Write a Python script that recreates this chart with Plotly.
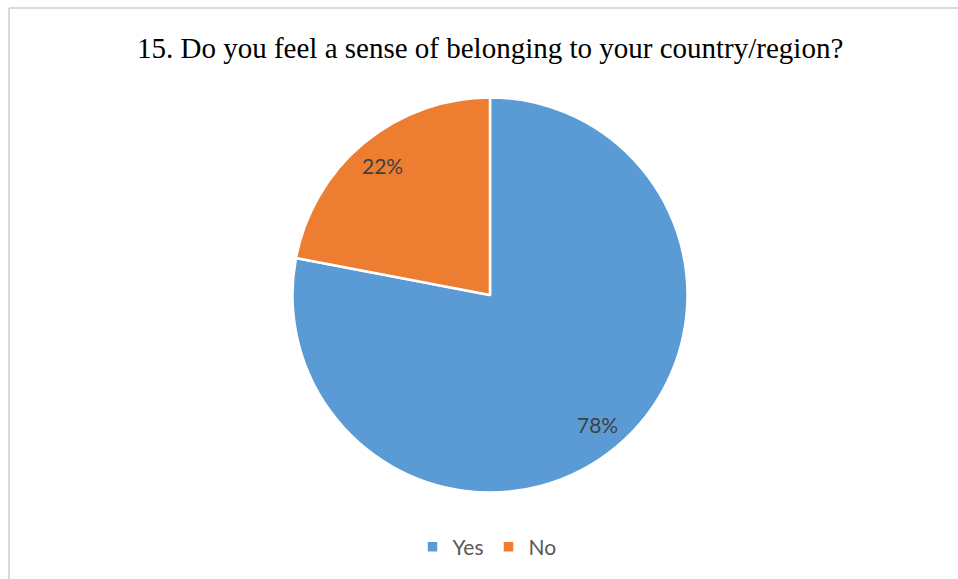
import math
import plotly.graph_objects as go

# Survey answers
labels = ["Yes", "No"]
shares = [78, 22]
colors = ["#5B9BD5", "#ED7D31"]
title_text = "15. Do you feel a sense of belonging to your country/region?"

W, H = 958, 579
cx, cy, r = 490.0, 295.0, 197.5  # pie centre and radius in pixels

dom_x = [(cx - r) / W, (cx + r) / W]
dom_y = [(H - (cy + r)) / H, (H - (cy - r)) / H]

fig = go.Figure(
    go.Pie(
        labels=labels,
        values=shares,
        sort=False,
        direction="clockwise",
        rotation=0,
        marker=dict(colors=colors, line=dict(color="white", width=2.5)),
        textinfo="none",
        hoverinfo="label+percent",
        domain=dict(x=dom_x, y=dom_y),
    )
)

# Percentage labels placed along each slice's mid angle
annotations = []
total = sum(shares)
start = 0.0
for lab, v in zip(labels, shares):
    mid = (start + v / 2) / total * 2 * math.pi
    start += v
    px = cx + 0.85 * r * math.sin(mid)
    py = cy - 0.85 * r * math.cos(mid)
    annotations.append(
        dict(
            x=px / W, y=1 - py / H, xref="paper", yref="paper",
            xanchor="center", yanchor="middle",
            text=f"{round(v / total * 100)}%", showarrow=False,
            font=dict(family="Lato", size=21, color="#404040"),
        )
    )

annotations.append(
    dict(
        x=490 / W, y=1 - 48 / H, xref="paper", yref="paper",
        xanchor="center", yanchor="middle",
        text=title_text, showarrow=False,
        font=dict(family="Liberation Serif", size=29, color="#000000"),
    )
)

# Light grey chart frame (top and left edges visible)
shapes = [
    dict(type="line", xref="paper", yref="paper", x0=9 / W, x1=1.01, y0=1 - 8 / H, y1=1 - 8 / H,
         line=dict(color="#D9D9D9", width=2)),
    dict(type="line", xref="paper", yref="paper", x0=9 / W, x1=9 / W, y0=-0.01, y1=1 - 8 / H,
         line=dict(color="#D9D9D9", width=2)),
]

fig.update_layout(
    width=W, height=H,
    margin=dict(l=0, r=0, t=0, b=0),
    paper_bgcolor="white",
    plot_bgcolor="white",
    annotations=annotations,
    shapes=shapes,
    showlegend=True,
    legend=dict(
        orientation="h", x=487 / W, xanchor="center", y=1 - 547 / H, yanchor="middle",
        font=dict(family="Lato", size=21, color="#595959"),
        itemwidth=30, tracegroupgap=0,
    ),
)

fig.write_html("out.html")
